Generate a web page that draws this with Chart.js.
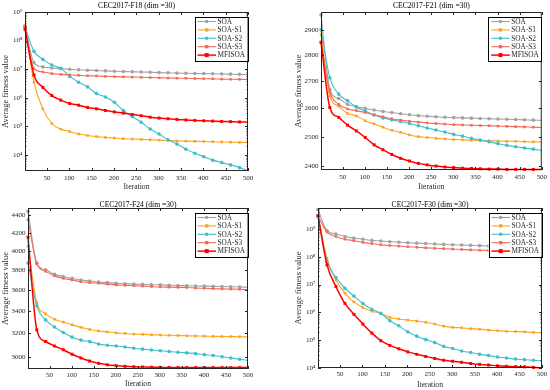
<!DOCTYPE html>
<html><head><meta charset="utf-8">
<script src="https://cdn.jsdelivr.net/npm/chart.js@4.4.1/dist/chart.umd.min.js"></script>
<style>
html,body{margin:0;padding:0;background:#fff;}
#wrap{position:relative;width:550px;height:390px;overflow:hidden;background:#fff;}
canvas{position:absolute;}
</style></head><body><div id="wrap">
<canvas id="c0" width="275" height="195" style="left:0;top:0"></canvas>
<canvas id="c1" width="275" height="195" style="left:275px;top:0"></canvas>
<canvas id="c2" width="275" height="195" style="left:0;top:195px"></canvas>
<canvas id="c3" width="275" height="195" style="left:275px;top:195px"></canvas>
</div>
<script>
// ---------- data ----------
const iterations = [1,21,41,61,81,101,121,141,161,181,201,221,241,261,281,301,321,341,361,381,401,421,441,461,481,500];
const xTicks = [50,100,150,200,250,300,350,400,450,500];
const seriesNames = ['SOA','SOA-S1','SOA-S2','SOA-S3','MFISOA'];
const titles = ['CEC2017-F18 (dim =30)','CEC2017-F21 (dim =30)','CEC2017-F24 (dim =30)','CEC2017-F30 (dim =30)'];
const xLabel = 'Iteration';
const yLabel = 'Average fitness value';

const f18Ticks = [1e4,1e5,1e6,1e7,1e8,1e9];
const f21Ticks = [2400,2500,2600,2700,2800,2900];
const f24Ticks = [3000,3200,3400,3600,3800,4000,4200,4400];
const f30Ticks = [1e4,1e5,1e6,1e7,1e8,1e9];

const f18Soa = [3.3e8,1.7e7,1.2e7,1.1e7,1.05e7,1.0e7,9.5e6,9.2e6,9.0e6,8.7e6,8.5e6,8.3e6,8.1e6,8.0e6,7.8e6,7.6e6,7.5e6,7.3e6,7.2e6,7.1e6,7.0e6,6.9e6,6.8e6,6.7e6,6.6e6,6.5e6];
const f18S1  = [3.5e8,3.5e6,4.1e5,1.26e5,8.0e4,6.6e4,5.4e4,4.8e4,4.4e4,4.1e4,3.9e4,3.7e4,3.6e4,3.5e4,3.4e4,3.3e4,3.2e4,3.1e4,3.05e4,3.0e4,2.95e4,2.9e4,2.85e4,2.8e4,2.75e4,2.7e4];
const f18S2  = [3.0e8,4.2e7,2.2e7,1.4e7,1.07e7,5.6e6,3.5e6,2.4e6,1.4e6,1.07e6,7.0e5,3.6e5,2.2e5,1.4e5,8.1e4,5.4e4,3.4e4,2.4e4,1.6e4,1.15e4,8.7e3,6.6e3,5.4e3,4.5e3,3.6e3,2.8e3];
const f18S3  = [3.0e8,1.05e7,8.0e6,7.0e6,6.6e6,6.3e6,6.1e6,5.9e6,5.8e6,5.6e6,5.5e6,5.4e6,5.3e6,5.2e6,5.1e6,5.0e6,4.9e6,4.85e6,4.8e6,4.7e6,4.65e6,4.6e6,4.5e6,4.45e6,4.4e6,4.3e6];
const f18Mf  = [2.5e8,6.3e6,2.3e6,1.2e6,8.3e5,6.3e5,5.5e5,4.6e5,4.1e5,3.6e5,3.2e5,2.9e5,2.6e5,2.35e5,2.1e5,1.95e5,1.85e5,1.75e5,1.68e5,1.62e5,1.57e5,1.53e5,1.49e5,1.46e5,1.43e5,1.4e5];

const f21Soa = [2960,2670,2636,2615,2606,2600,2594,2589,2585,2581,2577,2574,2572,2570,2568,2567,2566,2565,2564,2563,2562,2561,2560,2559,2558,2557];
const f21S1  = [2880,2645,2608,2582,2573,2556,2545,2533,2522,2515,2506,2500,2497,2494,2492,2490,2489,2488,2487,2486,2485,2484,2484,2483,2482,2481];
const f21S2  = [2900,2713,2652,2628,2605,2590,2576,2566,2559,2553,2546,2538,2530,2523,2516,2508,2502,2494,2488,2482,2476,2470,2465,2461,2457,2453];
const f21S3  = [2850,2660,2615,2598,2592,2585,2577,2570,2563,2558,2554,2551,2548,2546,2544,2542,2541,2540,2539,2538,2537,2536,2535,2534,2533,2532];
const f21Mf  = [2850,2603,2568,2540,2520,2497,2472,2455,2439,2426,2417,2409,2404,2400,2397,2395,2393,2392,2391,2390,2390,2389,2389,2389,2389,2389];

const f24Soa = [4450,3869,3800,3754,3731,3713,3697,3687,3677,3671,3664,3660,3656,3653,3650,3648,3645,3642,3640,3638,3636,3634,3632,3630,3628,3625];
const f24S1  = [4050,3478,3374,3325,3300,3275,3253,3234,3221,3213,3205,3200,3194,3192,3189,3186,3184,3182,3180,3178,3177,3175,3174,3173,3172,3170];
const f24S2  = [3870,3448,3319,3256,3208,3168,3143,3130,3109,3100,3093,3085,3075,3067,3060,3054,3048,3042,3036,3030,3022,3015,3005,2995,2985,2975];
const f24S3  = [4350,3862,3784,3738,3713,3697,3680,3671,3664,3656,3648,3644,3640,3636,3632,3628,3626,3624,3622,3618,3615,3612,3609,3607,3605,3603];
const f24Mf  = [4150,3231,3131,3093,3062,3025,2995,2970,2952,2940,2933,2928,2925,2923,2921,2920,2919,2918,2918,2918,2918,2918,2918,2918,2918,2918];

const f30Soa = [5.0e9,8.7e8,6.6e8,5.4e8,4.7e8,4.3e8,3.9e8,3.7e8,3.5e8,3.35e8,3.2e8,3.1e8,3.0e8,2.9e8,2.8e8,2.7e8,2.65e8,2.58e8,2.52e8,2.46e8,2.4e8,2.36e8,2.32e8,2.28e8,2.24e8,2.2e8];
const f30S1  = [3.0e9,9.0e7,1.5e7,4.9e6,2.4e6,1.5e6,1.1e6,9.2e5,6.6e5,5.8e5,5.3e5,4.9e5,4.4e5,3.8e5,3.2e5,2.9e5,2.8e5,2.6e5,2.5e5,2.3e5,2.2e5,2.1e5,2.05e5,2.0e5,1.9e5,1.85e5];
const f30S2  = [3.0e9,6.8e7,1.8e7,7.4e6,3.9e6,2.1e6,1.3e6,9.2e5,5.0e5,3.3e5,2.0e5,1.4e5,1.05e5,8.2e4,6.0e4,5.0e4,4.1e4,3.6e4,3.1e4,2.8e4,2.5e4,2.3e4,2.1e4,2.0e4,1.9e4,1.8e4];
const f30S3  = [2.9e9,7.8e8,5.4e8,4.3e8,3.8e8,3.3e8,3.0e8,2.7e8,2.55e8,2.42e8,2.3e8,2.2e8,2.1e8,2.02e8,1.96e8,1.9e8,1.84e8,1.78e8,1.73e8,1.69e8,1.65e8,1.61e8,1.57e8,1.54e8,1.52e8,1.5e8];
const f30Mf  = [3.0e9,5.1e7,8.5e6,2.1e6,8.5e5,3.8e5,1.8e5,9.6e4,6.5e4,4.9e4,3.8e4,3.1e4,2.6e4,2.2e4,1.9e4,1.75e4,1.6e4,1.45e4,1.35e4,1.28e4,1.2e4,1.15e4,1.12e4,1.1e4,1.05e4,1.0e4];

// ---------- styles ----------
const seriesColors = ['#a3a3a3','#ffa31a','#3fbfcb','#f36a5a','#ff0000'];
const seriesMarkers = ['circle','rect','circle','rect','rect'];
const FONT = '"Liberation Serif","Times New Roman",serif';

const panels = [
  {id:'c0', title:titles[0], series:[f18Soa,f18S1,f18S2,f18S3,f18Mf], yMin:2.75e3, yMax:1e9, yTicks:f18Ticks, decade:true,
   L:25, R:27, T:12, XH:24, titleY:6, tickPadX:3, xTitlePad:3.4, yTitlePad:0.9},
  {id:'c1', title:titles[1], series:[f21Soa,f21S1,f21S2,f21S3,f21Mf], yMin:2387, yMax:2972, yTicks:f21Ticks, decade:false,
   L:46, R:8, T:12, XH:25, titleY:6, tickPadX:3, xTitlePad:3.7, yTitlePad:18.9},
  {id:'c2', title:titles[2], series:[f24Soa,f24S1,f24S2,f24S3,f24Mf], yMin:2907, yMax:4490, yTicks:f24Ticks, decade:false,
   L:28, R:27, T:13, XH:21, titleY:10, tickPadX:2, xTitlePad:1.1, yTitlePad:0.9},
  {id:'c3', title:titles[3], series:[f30Soa,f30S1,f30S2,f30S3,f30Mf], yMin:1e4, yMax:5.7e9, yTicks:f30Ticks, decade:true,
   L:43, R:8, T:13, XH:22, titleY:9.5, tickPadX:2, xTitlePad:0.6, yTitlePad:18.9}
];

const SUP = {'0':'\u2070','1':'\u00b9','2':'\u00b2','3':'\u00b3','4':'\u2074','5':'\u2075','6':'\u2076','7':'\u2077','8':'\u2078','9':'\u2079'};
function decadeLabel(v){ const e = String(Math.round(Math.log10(v))); return '10' + e.split('').map(c=>SUP[c]).join(''); }

function drawMarker(ctx, style, x, y, r){
  ctx.beginPath();
  if (style === 'rect') ctx.rect(x - r, y - r, 2*r, 2*r);
  else ctx.arc(x, y, r, 0, Math.PI*2);
  ctx.fill();
}

function makeFrame(p){
  return {
    id:'frame_'+p.id,
    afterDatasetsDraw(chart){
      const {ctx, chartArea:a, scales:{x, y}} = chart;
      ctx.save();
      ctx.strokeStyle = '#262626';
      ctx.lineWidth = 1;
      ctx.strokeRect(a.left + 0.5, a.top + 0.5, a.width - 1, a.height - 1);
      const seg = (x1,y1,x2,y2)=>{ctx.beginPath();ctx.moveTo(x1,y1);ctx.lineTo(x2,y2);ctx.stroke();};
      const TL = 3;
      x.ticks.forEach(t=>{
        const px = Math.round(x.getPixelForValue(t.value)) + 0.5;
        seg(px, a.bottom, px, a.bottom - TL);
        seg(px, a.top, px, a.top + TL);
      });
      y.ticks.forEach(t=>{
        const py = Math.round(y.getPixelForValue(t.value)) + 0.5;
        seg(a.left, py, a.left + TL, py);
        seg(a.right, py, a.right - TL, py);
      });
      if (p.decade){
        ctx.lineWidth = 0.7;
        for (let e = Math.floor(Math.log10(p.yMin)); e <= Math.ceil(Math.log10(p.yMax)); e++){
          for (let m = 2; m <= 9; m++){
            const v = m * Math.pow(10, e);
            if (v <= p.yMin || v >= p.yMax) continue;
            const py = Math.round(y.getPixelForValue(v)) + 0.5;
            seg(a.left, py, a.left + 1.6, py);
            seg(a.right, py, a.right - 1.6, py);
          }
        }
      }
      ctx.restore();
    },
    afterDraw(chart){
      const {ctx, chartArea:a} = chart;
      ctx.save();
      // title
      ctx.fillStyle = '#000';
      ctx.font = '7.6px ' + FONT;
      ctx.textAlign = 'center';
      ctx.textBaseline = 'middle';
      ctx.fillText(p.title, (a.left + a.right)/2, p.titleY);
      // legend
      const bw = 53, bh = 44;
      const bx = a.right - 0.5 - bw, by = a.top + 4.5;
      ctx.fillStyle = '#fff';
      ctx.fillRect(bx, by, bw, bh);
      ctx.strokeStyle = '#000';
      ctx.lineWidth = 1;
      ctx.strokeRect(Math.round(bx)+0.5, Math.round(by)+0.5, bw, bh);
      ctx.font = '7.3px ' + FONT;
      ctx.textAlign = 'left';
      seriesNames.forEach((n, i)=>{
        const yy = by + 5 + i*8.4;
        ctx.strokeStyle = seriesColors[i];
        ctx.lineWidth = i === 4 ? 1.5 : 1.1;
        ctx.beginPath(); ctx.moveTo(bx + 3, yy); ctx.lineTo(bx + 21.5, yy); ctx.stroke();
        ctx.fillStyle = seriesColors[i];
        drawMarker(ctx, seriesMarkers[i], bx + 12.2, yy, i === 4 ? 2 : 1.7);
        ctx.fillStyle = '#262626';
        ctx.fillText(n, bx + 23, yy + 0.3);
      });
      ctx.restore();
    }
  };
}

panels.forEach(p=>{
  const datasets = seriesNames.map((n, i)=>({
    label: n,
    data: iterations.map((xv, j)=>({x: xv, y: p.series[i][j]})),
    borderColor: seriesColors[i],
    backgroundColor: seriesColors[i],
    borderWidth: i === 4 ? 1.5 : 1.1,
    pointStyle: seriesMarkers[i],
    pointRadius: c => c.dataIndex === iterations.length - 1 ? 0 : (i === 4 ? 2.1 : 1.8),
    pointBorderWidth: 0,
    pointHoverRadius: 0,
    cubicInterpolationMode: 'monotone',
    clip: false,
    order: 4 - i
  }));
  new Chart(document.getElementById(p.id), {
    type: 'line',
    data: {datasets},
    plugins: [makeFrame(p)],
    options: {
      responsive: false,
      animation: false,
      devicePixelRatio: 1,
      events: [],
      layout: {padding: {left: 0, right: p.R, top: p.T, bottom: 0}},
      plugins: {legend: {display: false}, tooltip: {enabled: false}, title: {display: false}},
      scales: {
        x: {
          type: 'linear', min: 1, max: 500,
          afterBuildTicks: s => { s.ticks = xTicks.map(v => ({value: v})); },
          afterFit: s => { s.height = p.XH; },
          grid: {display: false, drawTicks: false},
          border: {display: false},
          ticks: {autoSkip: false, maxRotation: 0, padding: p.tickPadX, color: '#262626',
                  font: {family: FONT, size: 7}, callback: v => String(v)},
          title: {display: true, text: xLabel, color: '#262626',
                  font: {family: FONT, size: 7.7}, padding: {top: 0, bottom: p.xTitlePad}}
        },
        y: {
          type: 'logarithmic', min: p.yMin, max: p.yMax,
          afterBuildTicks: s => { s.ticks = p.yTicks.map(v => ({value: v})); },
          afterFit: s => { s.width = p.L; },
          grid: {display: false, drawTicks: false},
          border: {display: false},
          ticks: {autoSkip: false, padding: 2.5, color: '#262626',
                  font: {family: FONT, size: 7},
                  callback: v => p.decade ? decadeLabel(v) : String(v)},
          title: {display: true, text: yLabel, color: '#262626',
                  font: {family: FONT, size: 8.5}, padding: {top: p.yTitlePad, bottom: 0}}
        }
      }
    }
  });
});
</script>
</body></html>
